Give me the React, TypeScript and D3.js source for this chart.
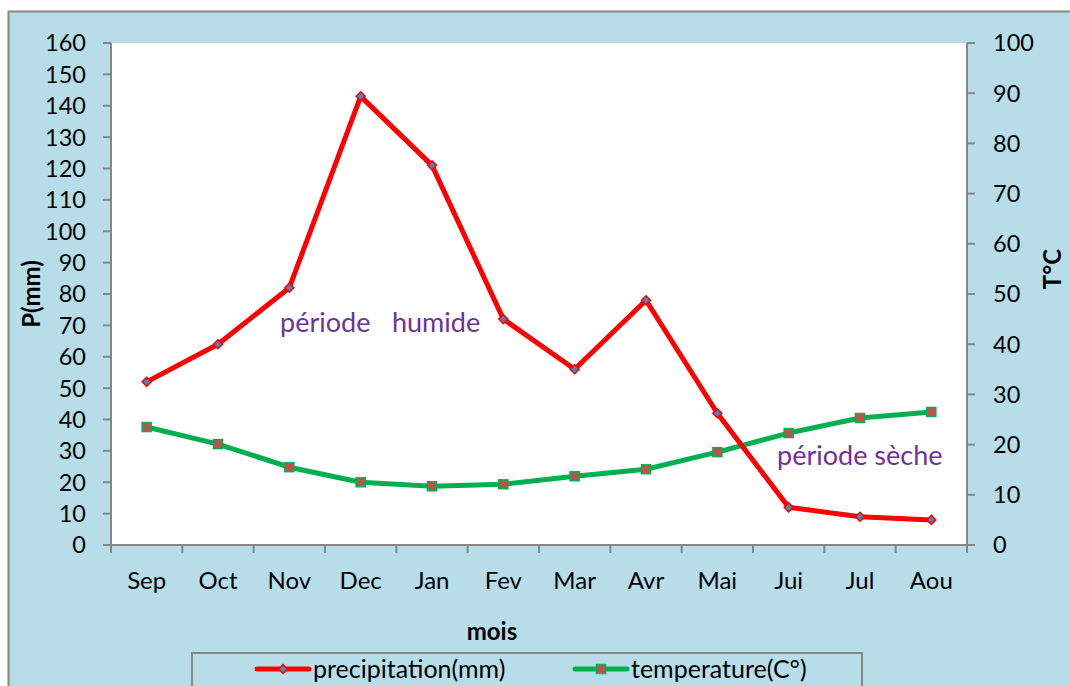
import React from "react";
import * as d3 from "d3";

const months = ["Sep", "Oct", "Nov", "Dec", "Jan", "Fev", "Mar", "Avr", "Mai", "Jui", "Jul", "Aou"];
const precipitation = [52, 64, 82, 143, 121, 72, 56, 78, 42, 12, 9, 8];
const temperature = [23.5, 20.1, 15.5, 12.5, 11.7, 12.1, 13.7, 15.1, 18.5, 22.3, 25.3, 26.5];
const leftTicks = d3.range(0, 161, 10);
const rightTicks = d3.range(0, 101, 10);

const FONT = "Lato, 'Open Sans', sans-serif";

export default function App() {
  const W = 1070, H = 686;
  const pl = 111, pr = 967, pt = 43, pb = 545;
  const x = d3.scaleBand<string>().domain(months).range([pl, pr]);
  const yL = d3.scaleLinear().domain([0, 160]).range([pb, pt]);
  const yR = d3.scaleLinear().domain([0, 100]).range([pb, pt]);
  const cx = (m: string) => (x(m) as number) + x.bandwidth() / 2;

  const lineP = d3.line<number>().x((_, i) => cx(months[i])).y((d) => yL(d));
  const lineT = d3.line<number>().x((_, i) => cx(months[i])).y((d) => yR(d));

  const boundaries = months.map((m) => x(m) as number).concat([pr]);
  const grey = "#868686";

  return (
    <svg width={W} height={H} style={{ position: "absolute", left: 0, top: 0 }} fontFamily={FONT}>
      <rect x={8.5} y={11.5} width={W + 10} height={H} fill="#B7DDE8" stroke={grey} strokeWidth={2} />
      <rect x={pl} y={pt} width={pr - pl} height={pb - pt} fill="#ffffff" />
      {/* left axis */}
      <line x1={pl} x2={pl} y1={pt} y2={pb} stroke={grey} strokeWidth={2} />
      {leftTicks.map((t) => (
        <g key={"l" + t}>
          <line x1={pl - 8} x2={pl} y1={yL(t)} y2={yL(t)} stroke={grey} strokeWidth={2} />
          <text x={86} y={yL(t)} dy="0.36em" textAnchor="end" fontSize={23.5} fill="#000">{t}</text>
        </g>
      ))}
      {/* right axis */}
      <line x1={pr} x2={pr} y1={pt} y2={pb} stroke={grey} strokeWidth={2} />
      {rightTicks.map((t) => (
        <g key={"r" + t}>
          <line x1={pr} x2={pr + 8} y1={yR(t)} y2={yR(t)} stroke={grey} strokeWidth={2} />
          <text x={993} y={yR(t)} dy="0.36em" textAnchor="start" fontSize={23.5} fill="#000">{t}</text>
        </g>
      ))}
      {/* bottom axis */}
      <line x1={pl - 8} x2={pr} y1={pb} y2={pb} stroke={grey} strokeWidth={2} />
      {boundaries.map((b, i) => (
        <line key={"b" + i} x1={b} x2={b} y1={pb} y2={pb + 8} stroke={grey} strokeWidth={2} />
      ))}
      {months.map((m) => (
        <text key={m} x={cx(m)} y={580} dy="0.36em" textAnchor="middle" fontSize={24} fill="#000">{m}</text>
      ))}
      {/* titles */}
      <text x={492} y={631} dy="0.36em" textAnchor="middle" fontSize={24} fontWeight="bold">mois</text>
      <text transform={`translate(31,294) rotate(-90)`} dy="0.36em" textAnchor="middle" fontSize={24} fontWeight="bold">P(mm)</text>
      <text transform={`translate(1052,269) rotate(-90)`} dy="0.36em" textAnchor="middle" fontSize={24} fontWeight="bold">T°C</text>
      {/* annotations */}
      <text x={280} y={322} dy="0.36em" fontSize={27} fill="#7030A0">période</text>
      <text x={392} y={322} dy="0.36em" fontSize={27} fill="#7030A0">humide</text>
      <text x={777} y={455} dy="0.36em" fontSize={27} fill="#7030A0">période sèche</text>
      {/* lines */}
      <path d={lineT(temperature) as string} fill="none" stroke="#00B050" strokeWidth={5} strokeLinejoin="round" />
      <path d={lineP(precipitation) as string} fill="none" stroke="#FF0000" strokeWidth={5} strokeLinejoin="round" />
      {temperature.map((t, i) => (
        <rect key={"t" + i} x={cx(months[i]) - 4.5} y={yR(t) - 4.5} width={9} height={9} fill="#C0504D" stroke="#00B050" strokeWidth={1.5} />
      ))}
      {precipitation.map((p, i) => (
        <path key={"p" + i} d={`M${cx(months[i])},${yL(p) - 4.5}L${cx(months[i]) + 4.5},${yL(p)}L${cx(months[i])},${yL(p) + 4.5}L${cx(months[i]) - 4.5},${yL(p)}Z`} fill="#4F81BD" stroke="#FF0000" strokeWidth={1.5} />
      ))}
      {/* legend */}
      <rect x={192} y={653} width={670} height={60} fill="#B7DDE8" stroke={grey} strokeWidth={2} />
      <line x1={257} x2={309} y1={669} y2={669} stroke="#FF0000" strokeWidth={5} strokeLinecap="round" />
      <path d="M283,664.5L287.5,669L283,673.5L278.5,669Z" fill="#4F81BD" stroke="#FF0000" strokeWidth={1.5} />
      <text x={313} y={669} dy="0.36em" fontSize={25} fill="#000">precipitation(mm)</text>
      <line x1={575} x2={627} y1={669} y2={669} stroke="#00B050" strokeWidth={5} strokeLinecap="round" />
      <rect x={596.5} y={664.5} width={9} height={9} fill="#C0504D" stroke="#00B050" strokeWidth={1.5} />
      <text x={631} y={669} dy="0.36em" fontSize={25} fill="#000">temperature(C°)</text>
    </svg>
  );
}
